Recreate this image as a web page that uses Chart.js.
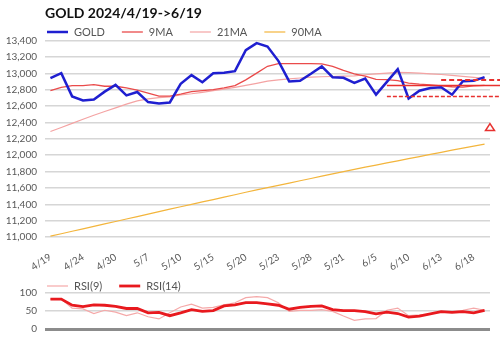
<!DOCTYPE html>
<html>
<head>
<meta charset="utf-8">
<script src="https://cdn.jsdelivr.net/npm/chart.js@4.4.1/dist/chart.umd.min.js"></script>
<style>
  body { margin: 0; background: #fff; }
  #wrap { position: relative; width: 500px; height: 343px; }
  canvas { position: absolute; left: 0; }
  #priceChart { top: 0; }
  #rsiChart { top: 275px; }
</style>
</head>
<body>
<div id="wrap">
  <canvas id="priceChart" width="500" height="275"></canvas>
  <canvas id="rsiChart" width="500" height="68"></canvas>
</div>
<script>
  // sessions 2024/4/19 -> 6/19
  const dates = [
    '4/19', '4/22', '4/23', '4/24', '4/25', '4/26', '4/30', '5/1', '5/2', '5/7',
    '5/8', '5/9', '5/10', '5/13', '5/14', '5/15', '5/16', '5/17', '5/20', '5/21',
    '5/22', '5/23', '5/24', '5/27', '5/28', '5/29', '5/30', '5/31', '6/3', '6/4',
    '6/5', '6/6', '6/7', '6/10', '6/11', '6/12', '6/13', '6/14', '6/17', '6/18',
    '6/19'
  ];

  const gold = [12943, 13004, 12720, 12671, 12683, 12778, 12860, 12733, 12774, 12650,
    12634, 12646, 12873, 12980, 12893, 13004, 13009, 13029, 13285, 13371,
    13330, 13155, 12903, 12910, 12996, 13087, 12955, 12947, 12885, 12939,
    12741, 12897, 13054, 12695, 12790, 12823, 12831, 12741, 12906, 12910,
    12955];

  const ma9 = [12790, 12831, 12852, 12852, 12864, 12844, 12844, 12823, 12798, 12761,
    12724, 12724, 12749, 12778, 12790, 12803, 12823, 12852, 12922, 13004,
    13088, 13120, 13120, 13120, 13120, 13118, 13087, 13037, 12996, 12967,
    12928, 12926, 12914, 12881, 12869, 12860, 12848, 12838, 12833, 12848,
    12855];

  const ma21 = [12290, 12340, 12390, 12440, 12490, 12535, 12580, 12625, 12665, 12690,
    12705, 12715, 12737, 12752, 12770, 12790, 12810, 12831, 12855, 12880,
    12906, 12922, 12934, 12945, 12955, 12960, 12963, 12967, 12971, 12985,
    12996, 13005, 13013, 13010, 13004, 12996, 12988, 12978, 12965, 12952,
    12940];

  const ma90 = [11010, 11040, 11070, 11100, 11130, 11160, 11190, 11220, 11250, 11280,
    11310, 11340, 11370, 11400, 11429, 11458, 11488, 11517, 11547, 11576,
    11604, 11632, 11660, 11688, 11716, 11744, 11772, 11800, 11828, 11854,
    11880, 11906, 11932, 11958, 11984, 12010, 12036, 12062, 12088, 12112,
    12135];

  const rsi9 = [83, 83, 58, 56, 43, 52, 47, 37, 45, 34,
    28, 45, 61, 69, 58, 60, 67, 73, 87, 90,
    87, 73, 49, 52, 52, 54, 49, 36, 24, 28,
    29, 52, 58, 37, 39, 42, 47, 48, 52, 58,
    52];

  const rsi14 = [83, 83, 66, 62, 67, 66, 63, 57, 57, 45,
    46, 37, 45, 54, 49, 51, 64, 67, 73, 73,
    70, 66, 55, 60, 63, 64, 54, 51, 51, 48,
    42, 47, 43, 33, 36, 42, 48, 46, 48, 45,
    52];

  // support / resistance levels and the session each one starts from
  const levels = [12922, 12852, 12720];
  const levelFrom = [36, 31, 31];
  const target = 12345;

  Chart.defaults.font.family = 'Lato, "Open Sans", sans-serif';
  Chart.defaults.color = '#595959';

  // simple line-sample legend drawn at a fixed spot
  const lineKey = {
    id: 'lineKey',
    afterDraw(chart, args, opts) {
      const ctx = chart.ctx;
      let x = opts.x;
      ctx.save();
      ctx.font = '11px Lato, "Open Sans", sans-serif';
      ctx.textBaseline = 'middle';
      chart.data.datasets.forEach(function(ds) {
        ctx.strokeStyle = ds.borderColor;
        ctx.lineWidth = ds.borderWidth;
        ctx.beginPath();
        ctx.moveTo(x, opts.y);
        ctx.lineTo(x + 21, opts.y);
        ctx.stroke();
        x += 27;
        ctx.fillStyle = '#555';
        ctx.fillText(ds.label, x, opts.y);
        x += ctx.measureText(ds.label).width + 17;
      });
      ctx.restore();
    }
  };

  const levelMarks = {
    id: 'levelMarks',
    afterDatasetsDraw(chart) {
      const ctx = chart.ctx;
      const x = chart.scales.x;
      const y = chart.scales.y;
      const dashes = [[5, 3], [], [4, 2]];
      ctx.save();
      ctx.strokeStyle = '#e8312f';
      levels.forEach(function(v, i) {
        const py = y.getPixelForValue(v);
        ctx.setLineDash(dashes[i]);
        ctx.lineWidth = i === 0 ? 2 : 1.5;
        ctx.beginPath();
        ctx.moveTo(x.getPixelForValue(levelFrom[i]), py);
        ctx.lineTo(chart.width, py);
        ctx.stroke();
      });
      // target marker, half a session right of the last close
      const last = dates.length - 1;
      const step = x.getPixelForValue(last) - x.getPixelForValue(last - 1);
      const tx = x.getPixelForValue(last) + step / 2;
      const ty = y.getPixelForValue(target);
      ctx.setLineDash([]);
      ctx.lineWidth = 1.5;
      ctx.beginPath();
      ctx.moveTo(tx, ty - 3.5);
      ctx.lineTo(tx + 4.5, ty + 3.5);
      ctx.lineTo(tx - 4.5, ty + 3.5);
      ctx.closePath();
      ctx.stroke();
      ctx.restore();
    }
  };

  const gridGray = '#d6d6d6';

  const priceChart = new Chart(document.getElementById('priceChart').getContext('2d'), {
    type: 'line',
    data: {
      labels: dates,
      datasets: [
        { label: 'GOLD', data: gold, borderColor: '#1f1fd0', borderWidth: 2.5 },
        { label: '9MA', data: ma9, borderColor: '#ea4b4b', borderWidth: 1.3 },
        { label: '21MA', data: ma21, borderColor: '#f4a3a3', borderWidth: 1.2 },
        { label: '90MA', data: ma90, borderColor: '#f3b53c', borderWidth: 1.2 }
      ]
    },
    options: {
      responsive: false,
      animation: false,
      elements: { point: { radius: 0 }, line: { tension: 0 } },
      layout: { padding: { left: 0, right: 10 } },
      scales: {
        x: {
          offset: true,
          grid: { display: false },
          border: { display: false },
          ticks: {
            autoSkip: false,
            minRotation: 33,
            maxRotation: 33,
            padding: 6,
            font: { size: 10 },
            callback: function(val, i) { return i % 3 === 0 ? dates[i] : ''; }
          },
          afterFit: function(scale) { scale.height = 38; }
        },
        y: {
          min: 11000,
          max: 13400,
          border: { display: false },
          grid: { color: gridGray, lineWidth: 1.5, drawTicks: false },
          ticks: { stepSize: 200, padding: 8, font: { size: 10 } },
          afterFit: function(scale) { scale.width = 45; }
        }
      },
      plugins: {
        legend: { display: false },
        tooltip: { enabled: false },
        title: {
          display: true,
          text: 'GOLD 2024/4/19->6/19',
          align: 'start',
          fullSize: false,
          color: '#111',
          font: { size: 14, weight: 'bold' },
          padding: { top: 5, bottom: 19 }
        },
        lineKey: { x: 47, y: 32 }
      }
    },
    plugins: [lineKey, levelMarks]
  });

  const rsiChart = new Chart(document.getElementById('rsiChart').getContext('2d'), {
    type: 'line',
    data: {
      labels: dates,
      datasets: [
        { label: 'RSI(9)', data: rsi9, borderColor: '#f5a9a9', borderWidth: 1.2, order: 1 },
        { label: 'RSI(14)', data: rsi14, borderColor: '#e8191e', borderWidth: 2.8, order: 0 }
      ]
    },
    options: {
      responsive: false,
      animation: false,
      elements: { point: { radius: 0 }, line: { tension: 0 } },
      layout: { padding: { left: 0, right: 10, top: 18, bottom: 6 } },
      scales: {
        x: { display: false, offset: true },
        y: {
          min: 0,
          max: 100,
          border: { display: false },
          grid: {
            drawTicks: false,
            color: function(c) { return c.tick.value === 0 ? '#8c8c8c' : gridGray; },
            lineWidth: function(c) { return c.tick.value === 0 ? 3 : 1.5; }
          },
          ticks: {
            stepSize: 25,
            padding: 8,
            font: { size: 10 },
            callback: function(v) { return v % 50 === 0 ? v : ''; }
          },
          afterFit: function(scale) { scale.width = 45; }
        }
      },
      plugins: {
        legend: { display: false },
        tooltip: { enabled: false },
        lineKey: { x: 47, y: 11 }
      }
    },
    plugins: [lineKey]
  });
</script>
</body>
</html>
